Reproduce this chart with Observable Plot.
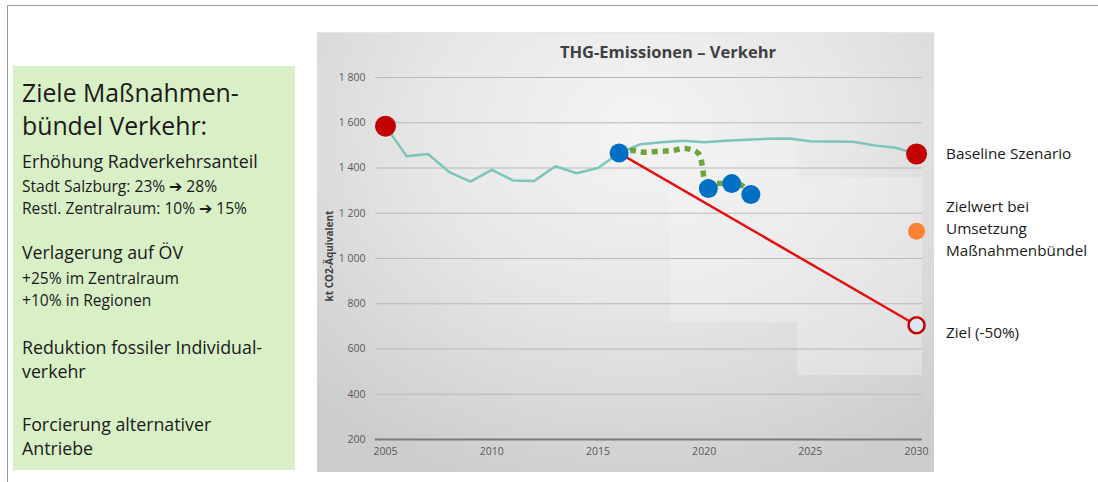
<!DOCTYPE html>
<html>
<head>
<meta charset="utf-8">
<script src="https://cdn.jsdelivr.net/npm/d3@7"></script>
<script src="https://cdn.jsdelivr.net/npm/@observablehq/plot@0.6"></script>
<style>
  html, body { margin: 0; padding: 0; background: #fff; }
  body { width: 1098px; height: 482px; position: relative; overflow: hidden; font-family: "Open Sans", Lato, sans-serif; }
  .topline { position: absolute; left: 7px; top: 5px; width: 1091px; height: 1px; background: #9a9a9a; }
  .leftline { position: absolute; left: 7px; top: 5px; width: 1px; height: 477px; background: #9a9a9a; }
  .greenbox { position: absolute; left: 13px; top: 66px; width: 282px; height: 404px; background: #d9efc6; }
  .gt { position: absolute; left: 22px; color: #1a1a1a; white-space: nowrap; line-height: 1; }
  .panel { position: absolute; left: 317px; top: 32px; width: 617px; height: 440px;
    background: radial-gradient(ellipse 75% 85% at 52% 22%, #f4f4f4 0%, #e7e7e7 45%, #cdcdcd 100%);
    border-top: 1px solid #e6e6e6; box-sizing: border-box; }
  #chart { position: absolute; left: 317px; top: 32px; }
  .title { position: absolute; left: 668px; top: 42px; transform: translateX(-50%); font-weight: bold; font-size: 16.5px; color: #404040; white-space: nowrap; line-height: 1.2; }
  .ylabel { position: absolute; left: 329px; top: 256px; transform: translate(-50%, -50%) rotate(-90deg); font-weight: bold; font-size: 10px; color: #404040; white-space: nowrap; }
  .rt { position: absolute; left: 946px; font-size: 15.3px; color: #1a1a1a; white-space: nowrap; line-height: 1; }
</style>
</head>
<body>
<div class="topline"></div>
<div class="leftline"></div>
<div class="greenbox"></div>
<div id="leftText"></div>
<div class="panel"></div>
<div id="chart"></div>
<div class="title" id="title"></div>
<div class="ylabel" id="ylabel"></div>
<div id="rightText"></div>
<script>
// ---------- Data ----------
const chartTitle = "THG-Emissionen – Verkehr";
const yAxisLabel = "kt CO2-Äquivalent";

const xTicks = [2005, 2010, 2015, 2020, 2025, 2030];
const yTicks = [200, 400, 600, 800, 1000, 1200, 1400, 1600, 1800];

// Baseline scenario (teal line)
const baselineYears  = [2005, 2006, 2007, 2008, 2009, 2010, 2011, 2012, 2013, 2014, 2015, 2016, 2017, 2018, 2019, 2020, 2021, 2022, 2023, 2024, 2025, 2026, 2027, 2028, 2029, 2030];
const baselineValues = [1585, 1452, 1462, 1382, 1340, 1392, 1345, 1343, 1408, 1377, 1400, 1466, 1505, 1514, 1520, 1514, 1520, 1525, 1529, 1530, 1518, 1517, 1516, 1500, 1490, 1462];

// Target path (-50%) red line
const targetYears  = [2016, 2030];
const targetValues = [1466, 705];

// Green dotted path (Maßnahmen trajectory)
const pathYears  = [2016.0, 2016.63, 2017.15, 2017.8, 2018.47, 2019.12, 2019.74, 2019.92, 2020.07, 2020.9, 2021.6, 2022.2];
const pathValues = [1466, 1477, 1470, 1473, 1477, 1486, 1464, 1407, 1345, 1331, 1331, 1290];

// Blue points
const blueYears  = [2016.0, 2020.2, 2021.3, 2022.2];
const blueValues = [1466, 1309, 1331, 1283];

// Red points (baseline start / end)
const redYears  = [2005, 2030];
const redValues = [1585, 1462];

// Orange point (Zielwert bei Umsetzung Maßnahmenbündel)
const orangeYears  = [2030];
const orangeValues = [1120];

// Open circle (Ziel -50%)
const goalYears  = [2030];
const goalValues = [705];

// Lighter background regions
const shadeX1 = [2018.4, 2024.4];
const shadeX2 = [2024.4, 2030.28];
const shadeY1 = [717, 483];
const shadeY2 = [1513, 1358];

// Text
const leftLines = [
  {t: "Ziele Maßnahmen-", s: 24.8, b: 100},
  {t: "bündel Verkehr:", s: 24.8, b: 133},
  {t: "Erhöhung Radverkehrsanteil", s: 17.8, b: 167},
  {t: "Stadt Salzburg: 23% ➔ 28%", s: 15.6, b: 191},
  {t: "Restl. Zentralraum: 10% ➔ 15%", s: 15.6, b: 213},
  {t: "Verlagerung auf ÖV", s: 17.8, b: 258},
  {t: "+25% im Zentralraum", s: 15.6, b: 283},
  {t: "+10% in Regionen", s: 15.6, b: 305},
  {t: "Reduktion fossiler Individual-", s: 17.8, b: 353},
  {t: "verkehr", s: 17.8, b: 377},
  {t: "Forcierung alternativer", s: 17.8, b: 430},
  {t: "Antriebe", s: 17.8, b: 454}
];
const rightLines = [
  {t: "Baseline Szenario", b: 158},
  {t: "Zielwert bei", b: 211},
  {t: "Umsetzung", b: 233},
  {t: "Maßnahmenbündel", b: 255},
  {t: "Ziel (-50%)", b: 337}
];

// ---------- Build ----------
const zip = (xs, ys) => xs.map((x, i) => ({x, y: ys[i]}));
const baseline = zip(baselineYears, baselineValues);
const target = zip(targetYears, targetValues);
const path = zip(pathYears, pathValues);
const blue = zip(blueYears, blueValues);
const red = zip(redYears, redValues);
const orange = zip(orangeYears, orangeValues);
const goal = zip(goalYears, goalValues);
const shades = shadeX1.map((x1, i) => ({x1, x2: shadeX2[i], y1: shadeY1[i], y2: shadeY2[i]}));

const fmt = d => d >= 1000 ? `${Math.floor(d / 1000)} ${String(d % 1000).padStart(3, "0")}` : String(d);

const chart = Plot.plot({
  width: 617,
  height: 440,
  marginLeft: 58,
  marginRight: 12,
  marginTop: 45,
  marginBottom: 33,
  style: {background: "transparent", fontFamily: "'Open Sans', Lato, sans-serif", fontSize: "10.5px", color: "#595959", overflow: "visible"},
  x: {domain: [2004.53, 2030.28]},
  y: {domain: [200, 1800]},
  marks: [
    Plot.rect(shades, {x1: "x1", x2: "x2", y1: "y1", y2: "y2", fill: "#f6f6f6", fillOpacity: 0.35}),
    Plot.ruleY(yTicks.filter(v => v > 200), {stroke: "#b9b9b9", strokeWidth: 1}),
    Plot.ruleY([200], {stroke: "#7a7a7a", strokeWidth: 2}),
    Plot.axisX({ticks: xTicks, tickSize: 0, tickPadding: 8, tickFormat: d => String(d), label: null, fill: "#595959"}),
    Plot.axisY({ticks: yTicks, tickSize: 0, tickPadding: 10, tickFormat: fmt, label: null, fill: "#595959"}),
    Plot.line(baseline, {x: "x", y: "y", stroke: "#7cc4bc", strokeWidth: 2.5}),
    Plot.line(target, {x: "x", y: "y", stroke: "#e41010", strokeWidth: 2.5}),
    Plot.line(path, {x: "x", y: "y", stroke: "#6ba53d", strokeWidth: 5.5, strokeDasharray: "6,5", strokeLinecap: "butt", strokeLinejoin: "miter", curve: "catmull-rom"}),
    Plot.dot(blue, {x: "x", y: "y", r: 9.5, fill: "#0070c4", stroke: "none"}),
    Plot.dot(red, {x: "x", y: "y", r: 10.5, fill: "#c30000", stroke: "none"}),
    Plot.dot(orange, {x: "x", y: "y", r: 8.5, fill: "#fb8234", stroke: "none"}),
    Plot.dot(goal, {x: "x", y: "y", r: 8, fill: "#dce7f4", stroke: "#c30000", strokeWidth: 2.5})
  ]
});
document.getElementById("chart").appendChild(chart);

document.getElementById("title").textContent = chartTitle;
document.getElementById("ylabel").textContent = yAxisLabel;

const lt = document.getElementById("leftText");
for (const l of leftLines) {
  const d = document.createElement("div");
  d.className = "gt";
  d.style.fontSize = l.s + "px";
  d.style.top = (l.b - l.s * 0.8) + "px";
  d.textContent = l.t;
  lt.appendChild(d);
}
const rt = document.getElementById("rightText");
for (const l of rightLines) {
  const d = document.createElement("div");
  d.className = "rt";
  d.style.top = (l.b - 15.3 * 0.8) + "px";
  d.textContent = l.t;
  rt.appendChild(d);
}
</script>
</body>
</html>
